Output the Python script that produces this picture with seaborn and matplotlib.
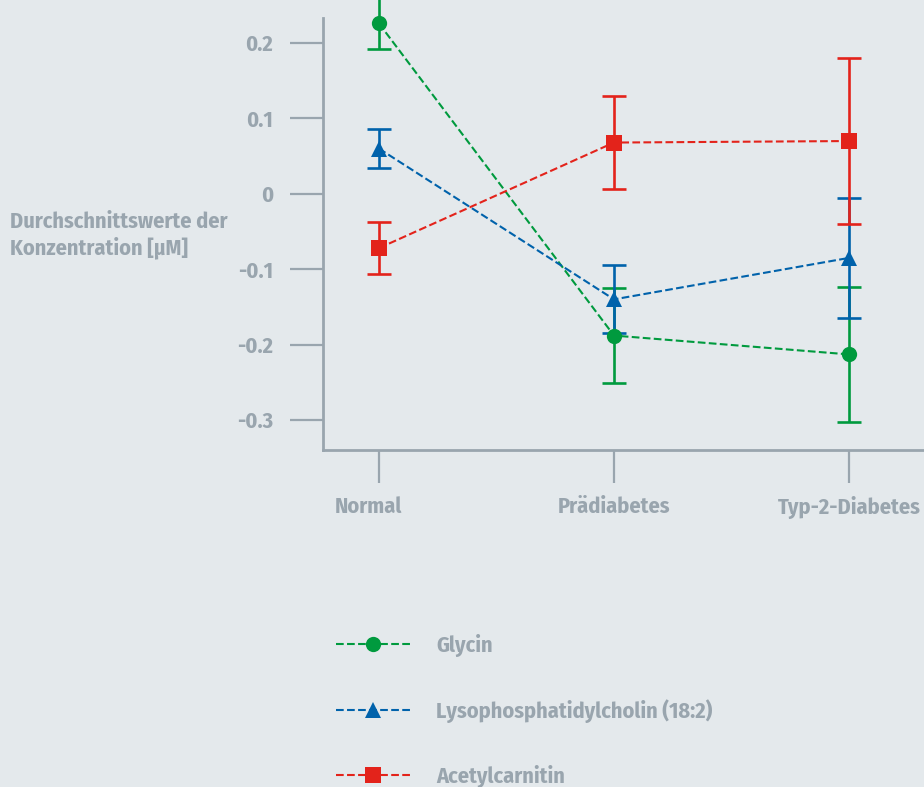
import matplotlib
matplotlib.use("Agg")
import matplotlib.pyplot as plt
import matplotlib.transforms as mtransforms
import seaborn as sns
import pandas as pd

# Group means and error half-widths (µM)
groups = ["Normal", "Prädiabetes", "Typ-2-Diabetes"]
series = ["Glycin", "Lysophosphatidylcholin (18:2)", "Acetylcarnitin"]
glycin_mean = [0.226, -0.188, -0.213]
glycin_err = [0.034, 0.063, 0.089]
lpc_mean = [0.060, -0.140, -0.085]
lpc_err = [0.026, 0.045, 0.080]
acetyl_mean = [-0.072, 0.068, 0.070]
acetyl_err = [0.035, 0.062, 0.110]
y_ticks = [0.2, 0.1, 0.0, -0.1, -0.2, -0.3]
y_tick_labels = ["0.2", "0.1", "0", "-0.1", "-0.2", "-0.3"]
y_label = "Durchschnittswerte der\nKonzentration [µM]"

BG = "#e4e9ec"
GRAY = "#99a5ae"
FONT = ["Fira Sans Condensed", "Roboto Condensed", "Barlow Semi Condensed",
        "PT Sans Narrow", "Archivo Narrow", "DejaVu Sans"]
FS = 16
colors = {"Glycin": "#009a3e", "Lysophosphatidylcholin (18:2)": "#0062ab",
          "Acetylcarnitin": "#e3231b"}
markers = {"Glycin": "o", "Lysophosphatidylcholin (18:2)": "^",
           "Acetylcarnitin": "s"}
msizes = {"Glycin": 11, "Lysophosphatidylcholin (18:2)": 11, "Acetylcarnitin": 11.5}

rows = []
for name, means, errs in [(series[0], glycin_mean, glycin_err),
                          (series[1], lpc_mean, lpc_err),
                          (series[2], acetyl_mean, acetyl_err)]:
    for i, (m, e) in enumerate(zip(means, errs)):
        rows.append({"serie": name, "gruppe": groups[i], "pos": i, "wert": m, "fehler": e})
df = pd.DataFrame(rows)

sns.set_theme(style="ticks")
plt.rcParams["font.family"] = FONT
plt.rcParams["font.weight"] = "bold"

fig = plt.figure(figsize=(9.24, 7.87), dpi=100, facecolor=BG)
ax = fig.add_axes([323 / 924, 1 - 450 / 787, 1 - 323 / 924, (450 - 18) / 787])
ax.set_facecolor(BG)

for name in series:
    sub = df[df["serie"] == name]
    c = colors[name]
    ax.errorbar(sub["pos"], sub["wert"], yerr=sub["fehler"], fmt="none",
                ecolor=c, elinewidth=1.9, capsize=8.5, capthick=1.9,
                clip_on=False, zorder=2)
    sns.lineplot(data=sub, x="pos", y="wert", ax=ax, color=c, label=name,
                 marker=markers[name], markersize=msizes[name],
                 markeredgewidth=0, linewidth=1.5, linestyle="--",
                 dashes=(3.5, 2.2), clip_on=False, zorder=3, errorbar=None)

ax.set_xlim(-0.238, 2.319)
ax.set_ylim(-0.3398, 0.2332)
ax.set_xticks(range(len(groups)))
ax.set_xticklabels(groups)
ax.set_yticks(y_ticks)
ax.set_yticklabels(y_tick_labels)
ax.set_xlabel("")
ax.set_ylabel("")

for side in ["top", "right"]:
    ax.spines[side].set_visible(False)
for side in ["left", "bottom"]:
    ax.spines[side].set_color(GRAY)
    ax.spines[side].set_linewidth(2.0)

ax.tick_params(axis="both", colors=GRAY, labelcolor=GRAY, labelsize=FS,
               width=1.6, length=24, direction="out")
ax.tick_params(axis="y", pad=12)
ax.tick_params(axis="x", pad=9)
for lab in ax.get_xticklabels() + ax.get_yticklabels():
    lab.set_fontweight("bold")

# the first category label sits a little left of its tick
first = ax.get_xticklabels()[0]
first.set_transform(first.get_transform()
                    + mtransforms.ScaledTranslation(-11 / 100, 0, fig.dpi_scale_trans))

fig.text(10 / 924, 1 - 235 / 787, y_label, ha="left", va="center",
         color=GRAY, fontsize=FS, fontweight="bold", linespacing=1.25)

handles, labels = ax.get_legend_handles_labels()
ax.legend(handles, labels, loc="upper left",
          bbox_to_anchor=(336 / 924, 1 - 634 / 787), bbox_transform=fig.transFigure,
          frameon=False, handlelength=3.33, handletextpad=1.17, labelspacing=1.9,
          borderpad=0, borderaxespad=0, numpoints=1,
          labelcolor=GRAY, prop={"weight": "bold", "size": FS, "family": FONT})

fig.savefig("out.png", dpi=100, facecolor=BG)
